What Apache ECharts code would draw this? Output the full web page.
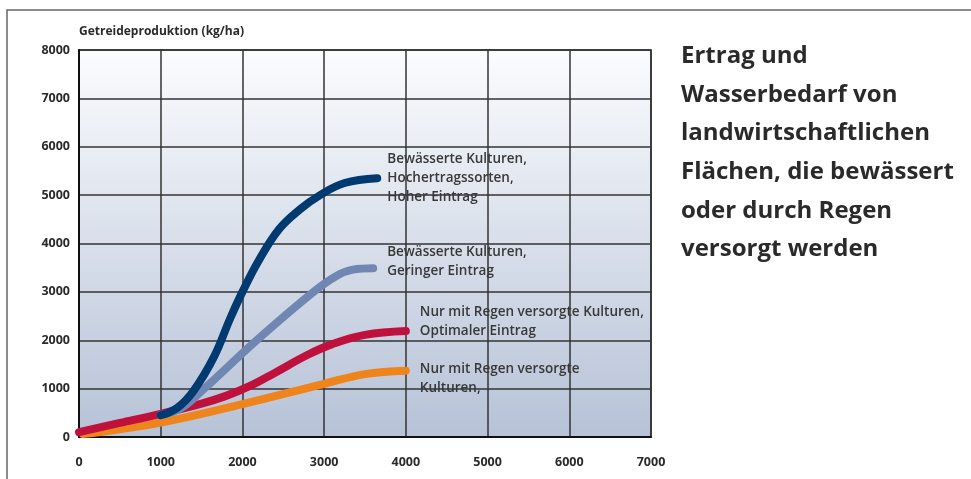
<!DOCTYPE html>
<html>
<head>
<meta charset="utf-8">
<script src="https://cdn.jsdelivr.net/npm/echarts@6/dist/echarts.min.js"></script>
<style>
  html, body { margin: 0; padding: 0; background: #fff; }
  #chart { width: 971px; height: 479px; }
</style>
</head>
<body>
<div id="chart"></div>
<script>
(function () {
  var myChart = echarts.init(document.getElementById('chart'));

  // Werte (x: Wasserbedarf, y: kg/ha)
  var xTicks = [0, 1000, 2000, 3000, 4000, 5000, 6000, 7000];
  var yTicks = [0, 1000, 2000, 3000, 4000, 5000, 6000, 7000, 8000];
  var seriesNames = [
    'Bewässerte Kulturen,\nHochertragssorten,\nHoher Eintrag',
    'Bewässerte Kulturen,\nGeringer Eintrag',
    'Nur mit Regen versorgte Kulturen,\nOptimaler Eintrag',
    'Nur mit Regen versorgte\nKulturen,'
  ];
  var hochEintrag = [[1000, 450], [1200, 600], [1400, 950], [1650, 1650], [1850, 2450], [2000, 3000],
    [2200, 3650], [2450, 4300], [2700, 4700], [2950, 5000], [3250, 5250], [3650, 5350]];
  var geringEintrag = [[1000, 450], [1250, 600], [1500, 950], [2175, 2000], [2870, 3000],
    [3150, 3330], [3350, 3460], [3600, 3490]];
  var regenOptimal = [[0, 100], [500, 290], [1000, 480], [1500, 690], [1800, 850], [2100, 1060],
    [2400, 1330], [2800, 1700], [3100, 1920], [3500, 2110], [4000, 2190]];
  var regen = [[50, 60], [1000, 300], [2000, 680], [3000, 1100], [3500, 1300], [4000, 1370]];

  var colors = ['#003a70', '#7087b3', '#c0103c', '#f0841c'];
  var labelOffsets = [[0, 0], [4, -7], [4, -9], [4, 8]];
  var allData = [hochEintrag, geringEintrag, regenOptimal, regen];

  var series = allData.map(function (d, i) {
    return {
      name: seriesNames[i],
      type: 'line',
      data: d,
      smooth: 0.4,
      showSymbol: false,
      z: 10 - i,
      lineStyle: { color: colors[i], width: 8, cap: 'round' },
      endLabel: {
        show: true,
        formatter: seriesNames[i],
        color: '#383838',
        fontFamily: 'Open Sans',
        fontWeight: 600,
        fontSize: 13.5,
        lineHeight: 19,
        distance: 10,
        offset: labelOffsets[i]
      }
    };
  });

  var plain = function (v) { return String(v); };

  var option = {
    animation: false,
    backgroundColor: '#fff',
    textStyle: { fontFamily: 'Open Sans' },
    graphic: [
      {
        type: 'rect',
        shape: { x: 7, y: 10, width: 1000, height: 500 },
        style: { fill: 'none', stroke: '#666', lineWidth: 1.5 },
        z: -10
      },
      {
        type: 'text',
        left: 681,
        top: 37,
        style: {
          text: 'Ertrag und\nWasserbedarf von\nlandwirtschaftlichen\nFlächen, die bewässert\noder durch Regen\nversorgt werden',
          fill: '#2a2a2a',
          font: 'bold 24px "Open Sans"',
          lineHeight: 38.6
        }
      }
    ],
    grid: {
      left: 79, right: 320, top: 50, bottom: 42,
      show: true,
      borderColor: '#222',
      borderWidth: 1.5,
      backgroundColor: new echarts.graphic.LinearGradient(0, 0, 0, 1, [
        { offset: 0, color: '#fbfcfe' },
        { offset: 1, color: '#b6c2d7' }
      ])
    },
    xAxis: {
      type: 'value',
      min: xTicks[0],
      max: xTicks[xTicks.length - 1],
      interval: 1000,
      axisLine: { show: true, lineStyle: { color: '#111', width: 2 } },
      axisTick: { show: false },
      axisLabel: { color: '#2a2a2a', fontSize: 12.5, fontWeight: 'bold', margin: 19, formatter: plain },
      splitLine: { show: true, lineStyle: { color: '#333', width: 1.5 } }
    },
    yAxis: {
      type: 'value',
      min: yTicks[0],
      max: yTicks[yTicks.length - 1],
      interval: 1000,
      name: 'Getreideproduktion (kg/ha)',
      nameLocation: 'end',
      nameGap: 12,
      nameTextStyle: { color: '#2a2a2a', fontSize: 12, fontWeight: 'bold', align: 'left' },
      axisLine: { show: true, lineStyle: { color: '#111', width: 2 } },
      axisTick: { show: false },
      axisLabel: { color: '#2a2a2a', fontSize: 12.5, fontWeight: 'bold', margin: 9, formatter: plain },
      splitLine: { show: true, lineStyle: { color: '#333', width: 1.5 } }
    },
    series: series
  };

  myChart.setOption(option);
  window.addEventListener('resize', function () {
    myChart.resize();
  });
})();
</script>
</body>
</html>
